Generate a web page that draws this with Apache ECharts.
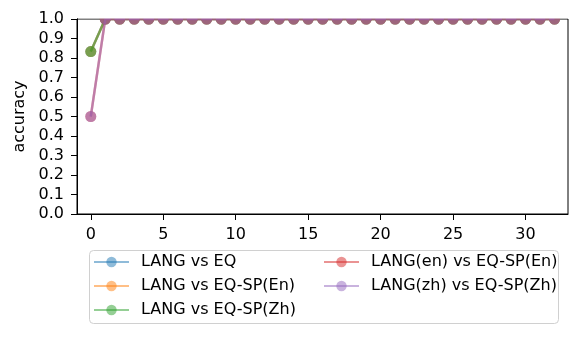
<!DOCTYPE html>
<html>
<head>
<meta charset="utf-8">
<script src="https://cdn.jsdelivr.net/npm/echarts@6/dist/echarts.min.js"></script>
<style>html,body{margin:0;padding:0;background:#fff}#c{width:581px;height:337px}</style>
</head>
<body>
<div id="c"></div>
<script>
const xTicks = [0, 5, 10, 15, 20, 25, 30];
const yTicks = [0.0, 0.1, 0.2, 0.3, 0.4, 0.5, 0.6, 0.7, 0.8, 0.9, 1.0];
const steps = [0,1,2,3,4,5,6,7,8,9,10,11,12,13,14,15,16,17,18,19,20,21,22,23,24,25,26,27,28,29,30,31,32];
const seriesNames = ['LANG vs EQ', 'LANG vs EQ-SP(En)', 'LANG vs EQ-SP(Zh)', 'LANG(en) vs EQ-SP(En)', 'LANG(zh) vs EQ-SP(Zh)'];
const langVsEq      = [0.833,1,1,1,1,1,1,1,1,1,1,1,1,1,1,1,1,1,1,1,1,1,1,1,1,1,1,1,1,1,1,1,1];
const langVsEqSpEn  = [0.833,1,1,1,1,1,1,1,1,1,1,1,1,1,1,1,1,1,1,1,1,1,1,1,1,1,1,1,1,1,1,1,1];
const langVsEqSpZh  = [0.833,1,1,1,1,1,1,1,1,1,1,1,1,1,1,1,1,1,1,1,1,1,1,1,1,1,1,1,1,1,1,1,1];
const langEnVsEqSpEn = [0.5,1,1,1,1,1,1,1,1,1,1,1,1,1,1,1,1,1,1,1,1,1,1,1,1,1,1,1,1,1,1,1,1];
const langZhVsEqSpZh = [0.5,1,1,1,1,1,1,1,1,1,1,1,1,1,1,1,1,1,1,1,1,1,1,1,1,1,1,1,1,1,1,1,1];
const allValues = [langVsEq, langVsEqSpEn, langVsEqSpZh, langEnVsEqSpEn, langZhVsEqSpZh];
const colors = ['#1f77b4', '#ff7f0e', '#2ca02c', '#d62728', '#9467bd'];

const FONT = 'DejaVu Sans';
const FS = 16;
const chart = echarts.init(document.getElementById('c'), null, {renderer: 'canvas'});

const series = seriesNames.map((name, i) => ({
  name: name,
  type: 'line',
  data: steps.map((s, j) => [s, allValues[i][j]]),
  symbol: 'circle',
  symbolSize: 11,
  showAllSymbol: true,
  clip: false,
  color: colors[i],
  lineStyle: {width: 2.4, color: colors[i], opacity: 0.5},
  itemStyle: {color: colors[i], opacity: 0.5},
  emphasis: {disabled: true},
  animation: false,
  z: 2 + i
}));

const legendCommon = {
  orient: 'vertical',
  itemWidth: 35,
  itemHeight: 13,
  itemGap: 8,
  textStyle: {fontFamily: FONT, fontSize: FS, color: '#000', padding: [0, 0, 0, 7]},
  selectedMode: false
};

chart.setOption({
  animation: false,
  backgroundColor: '#fff',
  grid: {left: 77, right: 13, top: 19, bottom: 123, show: true, borderColor: '#000', borderWidth: 1, backgroundColor: 'transparent'},
  xAxis: {
    type: 'value', min: -0.95, max: 32.93,
    axisLine: {show: true, onZero: false, lineStyle: {color: '#000', width: 1}},
    axisTick: {show: true, length: 6, lineStyle: {color: '#000'}, customValues: xTicks},
    axisLabel: {fontFamily: FONT, fontSize: FS, color: '#000', margin: 13, customValues: xTicks, formatter: v => String(v)},
    splitLine: {show: false}
  },
  yAxis: {
    type: 'value', min: 0, max: 1, interval: 0.1,
    name: 'accuracy', nameLocation: 'middle', nameGap: 46,
    nameTextStyle: {fontFamily: FONT, fontSize: FS, color: '#000'},
    axisLine: {show: true, onZero: false, lineStyle: {color: '#000', width: 1}},
    axisTick: {show: true, length: 6, lineStyle: {color: '#000'}},
    axisLabel: {fontFamily: FONT, fontSize: FS, color: '#000', margin: 13, formatter: v => v.toFixed(1)},
    splitLine: {show: false}
  },
  legend: [
    Object.assign({}, legendCommon, {left: 88, top: 249, data: seriesNames.slice(0, 3)}),
    Object.assign({}, legendCommon, {left: 318, top: 249, data: seriesNames.slice(3)})
  ],
  graphic: [
    {type: 'rect', z: -1, shape: {x: 89.5, y: 250.5, width: 469, height: 73, r: 4}, style: {fill: '#fff', stroke: '#d0d0d0', lineWidth: 1}},
    {type: 'rect', z: 100, shape: {x: 78, y: 0, width: 490, height: 18.5}, style: {fill: '#fff'}}
  ],
  series: series
});
</script>
</body>
</html>
